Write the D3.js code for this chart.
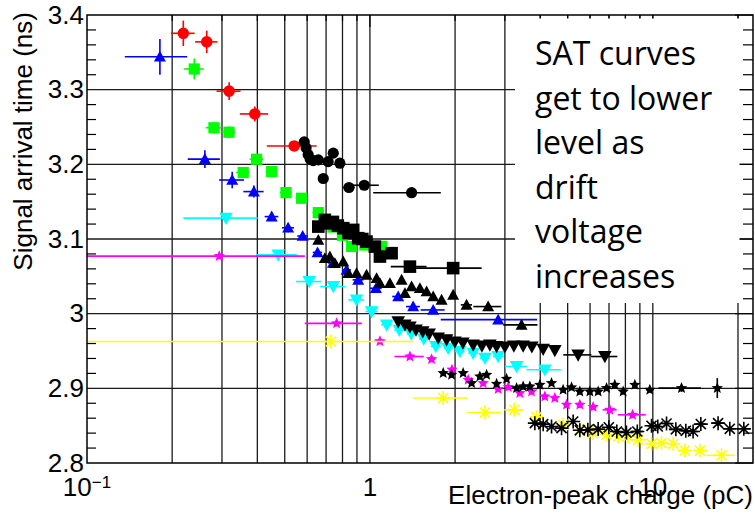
<!DOCTYPE html>
<html>
<head>
<meta charset="utf-8">
<script src="https://cdn.jsdelivr.net/npm/d3@7"></script>
<style>
  body { margin: 0; background: #fff; }
  svg text { font-family: "Liberation Sans", Arial, Helvetica, sans-serif; }
</style>
</head>
<body>
<svg id="chart" width="755" height="519"></svg>
<script>
// Each point: [electron-peak charge (pC), arrival time (ns), charge error, time error]
const redCircles = [
  [0.219, 3.3755, 0.021, 0.017], [0.265, 3.364, 0.024, 0.015], [0.318, 3.298, 0.031, 0.012],
  [0.392, 3.2675, 0.045, 0.010], [0.540, 3.2246, 0.108, 0.006]
];
const greenSquares = [
  [0.2394, 3.3277, 0.019, 0.014], [0.281, 3.249, 0.018, 0.008], [0.3176, 3.243, 0.018, 0.008],
  [0.3566, 3.189, 0.020, 0.006], [0.3977, 3.2068, 0.022, 0.006], [0.4495, 3.1902, 0.022, 0.005],
  [0.505, 3.1621, 0.025, 0.005], [0.5737, 3.1546, 0.028, 0.005], [0.657, 3.1353, 0.030, 0.005],
  [0.74, 3.116, 0.030, 0.004], [0.80, 3.105, 0.030, 0.004], [0.862, 3.090, 0.035, 0.004],
  [0.96, 3.092, 0.040, 0.004], [1.10, 3.090, 0.050, 0.004]
];
const blueTriangles = [
  [0.181, 3.344, 0.045, 0.024], [0.261, 3.207, 0.034, 0.012], [0.326, 3.179, 0.033, 0.011],
  [0.389, 3.1635, 0.032, 0.008], [0.4495, 3.130, 0.025, 0.006], [0.514, 3.115, 0.025, 0.006],
  [0.5785, 3.104, 0.025, 0.005], [0.653, 3.082, 0.025, 0.005], [0.74, 3.068, 0.030, 0.005],
  [0.827, 3.0586, 0.030, 0.005], [0.909, 3.0453, 0.040, 0.005], [1.05, 3.034, 0.050, 0.005],
  [1.259, 3.023, 0.060, 0.005], [1.422, 3.0095, 0.080, 0.005], [1.674, 3.005, 0.163, 0.005],
  [2.84, 2.992, 1.06, 0.005]
];
const blackCircles = [
  [0.586, 3.230, 0.012, 0.004], [0.595, 3.222, 0.012, 0.004], [0.605, 3.213, 0.012, 0.004],
  [0.615, 3.207, 0.013, 0.004], [0.630, 3.205, 0.013, 0.004], [0.657, 3.206, 0.014, 0.004],
  [0.684, 3.181, 0.015, 0.004], [0.712, 3.2036, 0.016, 0.004], [0.742, 3.215, 0.017, 0.004],
  [0.783, 3.2015, 0.020, 0.004], [0.843, 3.169, 0.040, 0.004], [0.955, 3.172, 0.120, 0.004],
  [1.404, 3.162, 0.377, 0.005]
];
const blackSquares = [
  [0.657, 3.1166, 0.012, 0.004], [0.693, 3.1256, 0.013, 0.004], [0.720, 3.121, 0.013, 0.004],
  [0.740, 3.1229, 0.014, 0.004], [0.770, 3.118, 0.015, 0.004], [0.805, 3.1145, 0.016, 0.004],
  [0.840, 3.108, 0.017, 0.004], [0.873, 3.1122, 0.018, 0.004], [0.909, 3.1011, 0.019, 0.004],
  [0.940, 3.100, 0.020, 0.004], [0.973, 3.0965, 0.020, 0.004], [1.041, 3.0898, 0.025, 0.004],
  [1.085, 3.0765, 0.030, 0.004], [1.193, 3.081, 0.040, 0.004], [1.385, 3.063, 0.200, 0.005],
  [1.969, 3.061, 0.513, 0.006]
];
const cyanTriangles = [
  [0.31, 3.128, 0.091, 0.006], [0.4742, 3.0787, 0.077, 0.005], [0.6102, 3.043, 0.062, 0.005],
  [0.742, 3.0363, 0.0755, 0.005], [0.897, 3.0185, 0.058, 0.005], [1.014, 3.0028, 0.050, 0.005],
  [1.146, 2.985, 0.050, 0.005], [1.27, 2.978, 0.050, 0.005], [1.40, 2.973, 0.050, 0.005],
  [1.55, 2.966, 0.060, 0.005], [1.71, 2.956, 0.070, 0.005], [1.891, 2.9538, 0.070, 0.005],
  [2.08, 2.9493, 0.080, 0.005], [2.317, 2.9471, 0.090, 0.005], [2.55, 2.9404, 0.100, 0.005],
  [2.84, 2.9426, 0.120, 0.005], [3.299, 2.9292, 0.295, 0.005], [4.153, 2.9248, 0.574, 0.005]
];
const blackTriangles = [
  [0.657, 3.0988, 0.012, 0.004], [0.693, 3.0743, 0.013, 0.004], [0.722, 3.0764, 0.013, 0.004],
  [0.752, 3.0676, 0.014, 0.004], [0.805, 3.0697, 0.015, 0.004], [0.838, 3.0542, 0.016, 0.004],
  [0.897, 3.0542, 0.017, 0.004], [0.973, 3.052, 0.018, 0.004], [1.056, 3.0475, 0.020, 0.004],
  [1.085, 3.0408, 0.020, 0.004], [1.177, 3.0408, 0.022, 0.004], [1.294, 3.0453, 0.025, 0.004],
  [1.33, 3.0274, 0.025, 0.004], [1.404, 3.0363, 0.027, 0.004], [1.502, 3.0341, 0.030, 0.004],
  [1.586, 3.0296, 0.030, 0.004], [1.674, 3.0229, 0.032, 0.004], [1.792, 3.0185, 0.035, 0.004],
  [1.969, 3.0252, 0.040, 0.004], [2.196, 3.0118, 0.100, 0.004], [2.618, 3.0095, 0.298, 0.005],
  [3.436, 2.985, 0.475, 0.006]
];
const magentaStars = [
  [0.2935, 3.077, 0.2955, 0.004], [0.7626, 2.987, 0.174, 0.004], [1.085, 2.963, 0.050, 0.004],
  [1.385, 2.9426, 0.164, 0.004], [1.652, 2.939, 0.050, 0.004], [1.95, 2.925, 0.050, 0.004],
  [2.226, 2.9114, 0.050, 0.004], [2.514, 2.907, 0.060, 0.004], [2.84, 2.899, 0.070, 0.004],
  [3.082, 2.9016, 0.070, 0.004], [3.388, 2.8936, 0.080, 0.004], [3.727, 2.8957, 0.090, 0.004],
  [4.153, 2.889, 0.100, 0.004], [4.505, 2.887, 0.100, 0.004], [4.955, 2.878, 0.120, 0.004],
  [5.521, 2.878, 0.130, 0.004], [6.152, 2.875, 0.150, 0.004], [7.047, 2.8712, 0.400, 0.004],
  [8.48, 2.8645, 0.966, 0.004]
];
const blackDownTriangles = [
  [1.259, 2.9894, 0.030, 0.004], [1.33, 2.985, 0.030, 0.004], [1.385, 2.9823, 0.030, 0.004],
  [1.455, 2.9783, 0.035, 0.004], [1.537, 2.976, 0.035, 0.004], [1.62, 2.973, 0.040, 0.004],
  [1.743, 2.9676, 0.040, 0.004], [1.866, 2.965, 0.045, 0.004], [1.997, 2.9622, 0.050, 0.004],
  [2.131, 2.9609, 0.050, 0.004], [2.317, 2.9582, 0.055, 0.004], [2.488, 2.9569, 0.060, 0.004],
  [2.655, 2.9582, 0.060, 0.004], [2.804, 2.956, 0.065, 0.004], [3.0, 2.9556, 0.070, 0.004],
  [3.227, 2.9569, 0.080, 0.004], [3.481, 2.9569, 0.080, 0.004], [3.736, 2.9556, 0.090, 0.004],
  [4.097, 2.9525, 0.100, 0.004], [4.505, 2.9506, 0.110, 0.004], [5.445, 2.9448, 0.620, 0.005],
  [6.77, 2.9426, 0.720, 0.006]
];
const blackStars = [
  [1.816, 2.9204, 0.040, 0.004], [1.944, 2.9181, 0.040, 0.004], [2.136, 2.9204, 0.045, 0.004],
  [2.288, 2.907, 0.050, 0.004], [2.447, 2.9158, 0.050, 0.004], [2.585, 2.9181, 0.055, 0.004],
  [2.804, 2.906, 0.060, 0.004], [3.041, 2.9127, 0.065, 0.004], [3.299, 2.9003, 0.070, 0.004],
  [3.481, 2.9024, 0.075, 0.004], [3.676, 2.9024, 0.080, 0.004], [3.988, 2.9047, 0.085, 0.004],
  [4.385, 2.907, 0.090, 0.004], [4.819, 2.898, 0.100, 0.004], [5.161, 2.9013, 0.110, 0.004],
  [5.521, 2.8957, 0.120, 0.004], [5.99, 2.8957, 0.130, 0.004], [6.409, 2.8957, 0.140, 0.004],
  [6.862, 2.9003, 0.150, 0.004], [7.339, 2.9047, 0.160, 0.004], [7.855, 2.8957, 0.170, 0.004],
  [8.64, 2.9047, 0.190, 0.004], [9.759, 2.898, 0.300, 0.004], [12.63, 2.9003, 2.158, 0.005],
  [16.9, 2.9003, 0.300, 0.0134]
];
const yellowAsterisks = [
  [0.728, 2.9627, 0.691, 0.004], [1.816, 2.887, 0.394, 0.004], [2.55, 2.8676, 0.353, 0.004],
  [3.236, 2.8712, 0.250, 0.004], [3.882, 2.8614, 0.200, 0.004], [4.819, 2.8511, 0.150, 0.004],
  [5.521, 2.8444, 0.150, 0.004], [6.152, 2.840, 0.160, 0.004], [6.862, 2.8378, 0.170, 0.004],
  [7.541, 2.8355, 0.180, 0.004], [8.177, 2.8355, 0.200, 0.004], [8.872, 2.831, 0.220, 0.004],
  [9.894, 2.8257, 0.300, 0.004], [10.73, 2.8266, 0.350, 0.004], [11.8, 2.8257, 0.400, 0.004],
  [12.97, 2.8167, 0.500, 0.004], [14.66, 2.8167, 0.800, 0.004], [17.49, 2.8103, 2.000, 0.004]
];
const blackAsterisks = [
  [3.828, 2.8534, 0.080, 0.004], [4.097, 2.852, 0.090, 0.004], [4.385, 2.8489, 0.090, 0.004],
  [4.758, 2.8467, 0.100, 0.004], [5.229, 2.8556, 0.110, 0.004], [5.521, 2.8438, 0.120, 0.004],
  [5.892, 2.8444, 0.130, 0.004], [6.409, 2.8454, 0.140, 0.004], [6.99, 2.8478, 0.150, 0.004],
  [7.46, 2.8422, 0.160, 0.004], [8.07, 2.8408, 0.180, 0.004], [8.813, 2.8422, 0.400, 0.004],
  [9.894, 2.8498, 0.300, 0.004], [10.41, 2.8489, 0.300, 0.004], [11.18, 2.8529, 0.350, 0.004],
  [12.06, 2.8451, 0.600, 0.004], [13.08, 2.8431, 0.500, 0.004], [13.88, 2.8422, 0.500, 0.004],
  [14.78, 2.8521, 0.600, 0.004], [17.01, 2.8534, 0.800, 0.004], [18.71, 2.8458, 1.000, 0.004],
  [20.97, 2.8458, 1.200, 0.004]
];

const xGridValues = [0.2, 0.3, 0.4, 0.5, 0.6, 0.7, 0.8, 0.9, 1, 2, 3, 4, 5, 6, 7, 8, 9, 10, 20];
const xMajorValues = [0.1, 1, 10];
const yMajorValues = [2.8, 2.9, 3.0, 3.1, 3.2, 3.3, 3.4];
const yTickLabels = ["2.8", "2.9", "3", "3.1", "3.2", "3.3", "3.4"];
const yMinorValues = d3.range(0, 31).map(i => +(2.8 + i * 0.02).toFixed(2));
const xAxisTitle = "Electron-peak charge (pC)";
const yAxisTitle = "Signal arrival time (ns)";
const noteLines = ["SAT curves", "get to lower", "level as", "drift", "voltage", "increases"];

// ---- layout ----
const L = 87, R = 753, T = 15, B = 463;
const svg = d3.select("#chart");

const x = d3.scaleLog().domain([0.1, 22.6]).range([L, R]);
const y = d3.scaleLinear().domain([2.8, 3.4]).range([B, T]);

svg.append("defs").append("clipPath").attr("id", "plotClip")
  .append("rect").attr("x", L).attr("y", T).attr("width", R - L).attr("height", B - T);

// ---- grid ----
const grid = svg.append("g").attr("stroke", "#1a1a1a").attr("stroke-width", 1.3);
grid.selectAll("line.gx").data(xGridValues).join("line")
  .attr("x1", d => x(d)).attr("x2", d => x(d)).attr("y1", T).attr("y2", B);
grid.selectAll("line.gy").data(yMajorValues.slice(1, -1)).join("line")
  .attr("x1", L).attr("x2", R).attr("y1", d => y(d)).attr("y2", d => y(d));

// ---- marker shapes (size = half-width in px) ----
const shapes = {
  circle: { draw(c, r) { c.moveTo(r, 0); c.arc(0, 0, r, 0, 2 * Math.PI); } },
  square: { draw(c, r) { c.rect(-r, -r, 2 * r, 2 * r); } },
  triUp: { draw(c, r) { c.moveTo(0, -r); c.lineTo(r, r * 0.8); c.lineTo(-r, r * 0.8); c.closePath(); } },
  triDown: { draw(c, r) { c.moveTo(0, r); c.lineTo(r, -r * 0.8); c.lineTo(-r, -r * 0.8); c.closePath(); } },
  star: { draw(c, r) {
    for (let i = 0; i < 10; i++) {
      const a = -Math.PI / 2 + i * Math.PI / 5, rr = i % 2 ? r * 0.45 : r;
      const px = rr * Math.cos(a), py = rr * Math.sin(a);
      if (i) c.lineTo(px, py); else c.moveTo(px, py);
    }
    c.closePath();
  } },
  asterisk: { draw(c, r) {
    const d = r * 0.72;
    c.moveTo(-r, 0); c.lineTo(r, 0); c.moveTo(0, -r); c.lineTo(0, r);
    c.moveTo(-d, -d); c.lineTo(d, d); c.moveTo(-d, d); c.lineTo(d, -d);
  } }
};

const series = [
  { data: redCircles, color: "#ff0000", shape: "circle", r: 5.8 },
  { data: greenSquares, color: "#00ff00", shape: "square", r: 5.6 },
  { data: blueTriangles, color: "#0000ff", shape: "triUp", r: 6 },
  { data: cyanTriangles, color: "#00ffff", shape: "triDown", r: 6.8 },
  { data: magentaStars, color: "#ff00ff", shape: "star", r: 6 },
  { data: yellowAsterisks, color: "#ffff00", shape: "asterisk", r: 7 },
  { data: blackCircles, color: "#000000", shape: "circle", r: 5.6 },
  { data: blackSquares, color: "#000000", shape: "square", r: 6.3 },
  { data: blackTriangles, color: "#000000", shape: "triUp", r: 6 },
  { data: blackDownTriangles, color: "#000000", shape: "triDown", r: 6.8 },
  { data: blackStars, color: "#000000", shape: "star", r: 6 },
  { data: blackAsterisks, color: "#000000", shape: "asterisk", r: 7 }
];

const plot = svg.append("g").attr("clip-path", "url(#plotClip)");
series.forEach(s => {
  const g = plot.append("g");
  // error bars
  g.selectAll("line.ex").data(s.data).join("line")
    .attr("x1", d => x(Math.max(d[0] - d[2], 0.05))).attr("x2", d => x(d[0] + d[2]))
    .attr("y1", d => y(d[1])).attr("y2", d => y(d[1]))
    .attr("stroke", s.color).attr("stroke-width", 1.6);
  g.selectAll("line.ey").data(s.data).join("line")
    .attr("x1", d => x(d[0])).attr("x2", d => x(d[0]))
    .attr("y1", d => y(d[1] - d[3])).attr("y2", d => y(d[1] + d[3]))
    .attr("stroke", s.color).attr("stroke-width", 1.6);
  // markers
  const sym = d3.symbol().type(shapes[s.shape]).size(s.r);
  const filled = s.shape !== "asterisk";
  g.selectAll("path").data(s.data).join("path")
    .attr("transform", d => `translate(${x(d[0])},${y(d[1])})`)
    .attr("d", sym)
    .attr("fill", filled ? s.color : "none")
    .attr("stroke", filled ? "none" : s.color)
    .attr("stroke-width", 1.6);
});

// ---- ticks on all four sides ----
const ticks = svg.append("g").attr("stroke", "#000").attr("stroke-width", 1.2);
const yMinorOnly = yMinorValues.filter(v => !yMajorValues.some(m => Math.abs(m - v) < 1e-6));
ticks.selectAll("line.yl").data(yMinorOnly).join("line")
  .attr("x1", L).attr("x2", L + 9).attr("y1", d => y(d)).attr("y2", d => y(d));
ticks.selectAll("line.yr").data(yMinorOnly).join("line")
  .attr("x1", R).attr("x2", R - 10).attr("y1", d => y(d)).attr("y2", d => y(d));
ticks.selectAll("line.yrM").data(yMajorValues).join("line")
  .attr("x1", R).attr("x2", R - 18).attr("y1", d => y(d)).attr("y2", d => y(d));
ticks.selectAll("line.xt").data(xGridValues).join("line")
  .attr("x1", d => x(d)).attr("x2", d => x(d)).attr("y1", T).attr("y2", d => T + (xMajorValues.includes(d) ? 12 : 6));

// ---- annotation panel ----
svg.append("rect").attr("x", 515).attr("y", 18.5).attr("width", 224.5).attr("height", 284.5).attr("fill", "#fff");
svg.append("g").selectAll("text").data(noteLines).join("text")
  .attr("x", 535).attr("y", (d, i) => 65 + i * 44.5)
  .style("font-family", "'Open Sans', 'Noto Sans', sans-serif")
  .style("font-size", "32px").attr("fill", "#000")
  .text(d => d);

// ---- frame ----
svg.append("rect").attr("x", L).attr("y", T).attr("width", R - L).attr("height", B - T)
  .attr("fill", "none").attr("stroke", "#000").attr("stroke-width", 1.5);

// ---- y axis labels via d3 axis ----
const yAxis = d3.axisLeft(y).tickValues(yMajorValues)
  .tickFormat((d, i) => yTickLabels[i]).tickSize(0).tickPadding(3);
const yg = svg.append("g").attr("transform", `translate(${L},0)`).call(yAxis);
yg.select(".domain").remove();
yg.selectAll("text").attr("font-size", 26).attr("fill", "#000")
  .style("font-family", "'Liberation Sans', Arial, sans-serif");

// ---- x axis labels ----
const xl = svg.append("g").attr("font-size", 26).attr("fill", "#000");
xMajorValues.forEach(v => {
  const t = xl.append("text").attr("x", x(v)).attr("y", 496).attr("text-anchor", "middle");
  const e = Math.round(Math.log10(v));
  if (e === 0) t.text("1");
  else if (e === 1) t.text("10");
  else {
    t.append("tspan").text("10");
    t.append("tspan").attr("dy", -8).attr("font-size", 17).text("\u2212" + Math.abs(e));
  }
});

// ---- axis titles ----
svg.append("text").attr("x", R).attr("y", 504).attr("text-anchor", "end")
  .attr("font-size", 26).attr("fill", "#000").text(xAxisTitle);
svg.append("text").attr("transform", `translate(32,12) rotate(-90)`).attr("text-anchor", "end")
  .attr("font-size", 26).attr("fill", "#000").text(yAxisTitle);
</script>
</body>
</html>
